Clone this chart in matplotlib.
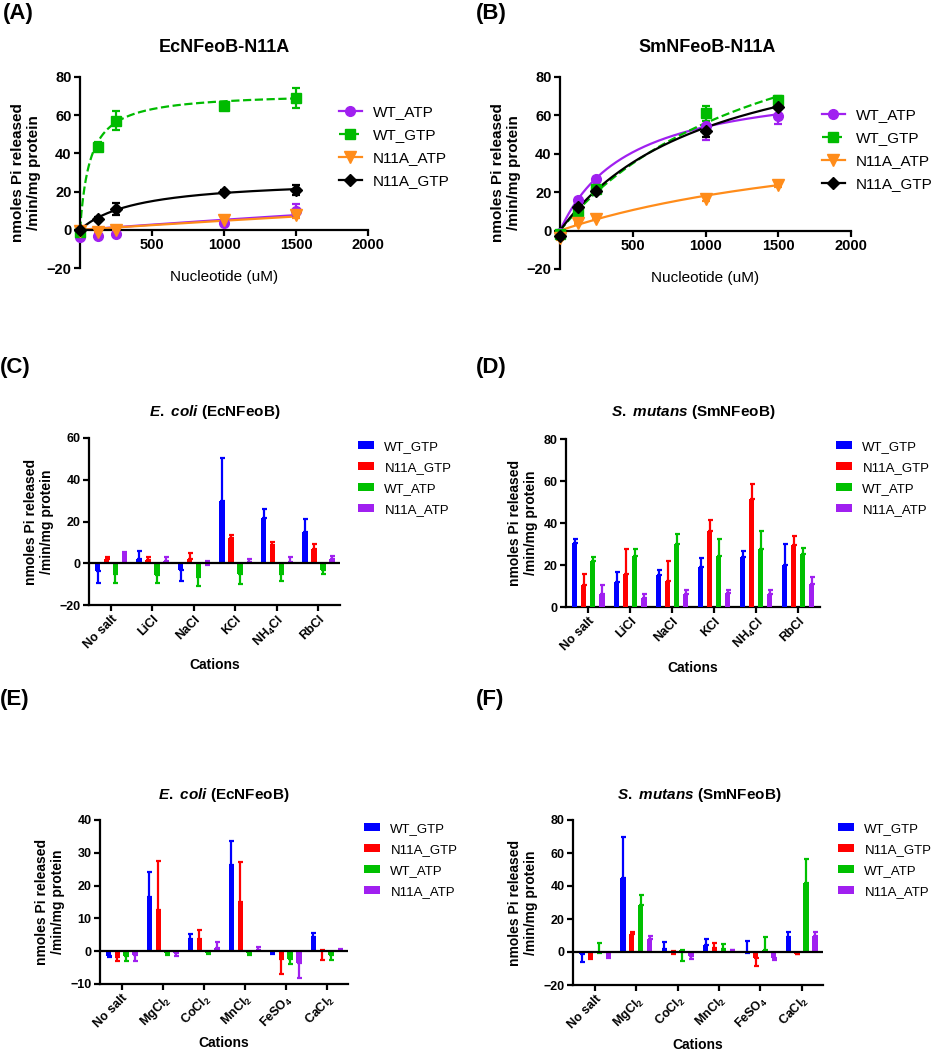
import numpy as np
import matplotlib
matplotlib.use('Agg')
import matplotlib.pyplot as plt
from matplotlib.lines import Line2D
from matplotlib.patches import Patch

plt.rcParams.update({
    'font.family': ['Liberation Sans', 'DejaVu Sans'],
    'font.weight': 'bold',
    'mathtext.fontset': 'custom',
    'mathtext.rm': 'Liberation Sans',
    'mathtext.it': 'Liberation Sans:italic:bold',
    'mathtext.bf': 'Liberation Sans:bold',
    'axes.linewidth': 1.6,
    'xtick.major.width': 1.6,
    'ytick.major.width': 1.6,
    'xtick.major.size': 4,
    'ytick.major.size': 4,
    'figure.facecolor': 'white',
})

# ---------------- data: kinetics (A, B) ----------------
nucleotide_uM = [0, 125, 250, 1000, 1500]
kin_labels = ['WT_ATP', 'WT_GTP', 'N11A_ATP', 'N11A_GTP']

# A: EcNFeoB-N11A
ec_wt_atp = [-4.0, -3.3, -2.0, 3.5, 10.0]
ec_wt_atp_err = [0.6, 0.6, 0.6, 1.0, 3.5]
ec_wt_gtp = [-1.0, 43.5, 57.0, 65.0, 69.0]
ec_wt_gtp_err = [0.6, 2.5, 5.0, 1.5, 5.0]
ec_n11a_atp = [-0.5, -1.0, 0.0, 5.0, 8.0]
ec_n11a_atp_err = [0.5, 0.5, 0.5, 1.0, 2.0]
ec_n11a_gtp = [0.0, 5.6, 11.0, 19.6, 20.8]
ec_n11a_gtp_err = [0.5, 1.0, 3.0, 1.0, 2.5]
# Michaelis-Menten fit parameters (Vmax, Km) for each series
ec_fit_vmax = [100, 72, 100, 27]
ec_fit_km = [18000, 70, 20000, 400]

# B: SmNFeoB-N11A
sm_wt_atp = [-1.2, 15.8, 26.8, 54.4, 59.6]
sm_wt_atp_err = [0.5, 1.0, 1.0, 7.0, 4.0]
sm_wt_gtp = [-1.8, 10.0, 21.6, 61.0, 68.0]
sm_wt_gtp_err = [0.5, 1.0, 1.5, 4.0, 2.0]
sm_n11a_atp = [-4.0, 3.9, 6.1, 16.5, 23.5]
sm_n11a_atp_err = [0.8, 0.5, 0.5, 1.0, 1.0]
sm_n11a_gtp = [-3.0, 12.3, 20.7, 52.0, 64.6]
sm_n11a_gtp_err = [0.5, 1.0, 1.0, 3.0, 1.5]
sm_fit_vmax = [80, 140, 60, 110]
sm_fit_km = [480, 1500, 2300, 1050]

# ---------------- data: cation bars (C-F) ----------------
bar_labels = ['WT_GTP', 'N11A_GTP', 'WT_ATP', 'N11A_ATP']
cations_mono = ['No salt', 'LiCl', 'NaCl', 'KCl', r'NH$_4$Cl', 'RbCl']
cations_di = ['No salt', r'MgCl$_2$', r'CoCl$_2$', r'MnCl$_2$', r'FeSO$_4$', r'CaCl$_2$']

# C: E. coli, monovalent (mean, signed SD: + drawn up, - drawn down)
c_wt_gtp = [-3.8, 2.2, -3.2, 30.0, 21.9, 15.2]
c_wt_gtp_sd = [-5.6, 3.9, -5.1, 20.6, 4.3, 5.8]
c_n11a_gtp = [1.8, 1.6, 2.2, 12.2, 8.8, 6.6]
c_n11a_gtp_sd = [1.2, 1.6, 2.8, 1.4, 1.6, 2.4]
c_wt_atp = [-5.0, -5.4, -6.4, -5.0, -5.0, -3.2]
c_wt_atp_sd = [-4.4, -4.0, -4.3, -4.9, -3.3, -1.8]
c_n11a_atp = [4.2, 1.3, -0.6, 0.6, 0.6, 2.1]
c_n11a_atp_sd = [1.2, 1.6, 1.9, 1.5, 2.3, 1.6]

# D: S. mutans, monovalent
d_wt_gtp = [30.6, 11.8, 15.1, 19.0, 23.7, 19.9]
d_wt_gtp_sd = [1.6, 4.9, 2.6, 4.4, 3.1, 10.0]
d_n11a_gtp = [10.5, 15.8, 12.6, 36.0, 51.5, 29.3]
d_n11a_gtp_sd = [5.1, 11.9, 9.4, 5.5, 7.3, 4.7]
d_wt_atp = [21.8, 24.5, 29.8, 24.4, 27.4, 25.2]
d_wt_atp_sd = [2.2, 2.9, 5.1, 7.9, 8.9, 2.8]
d_n11a_atp = [6.0, 4.5, 6.0, 6.8, 6.2, 11.1]
d_n11a_atp_sd = [4.5, 1.7, 2.0, 1.3, 1.8, 3.2]

# E: E. coli, divalent
e_wt_gtp = [-1.4, 16.6, 3.6, 26.4, -0.5, 4.3]
e_wt_gtp_sd = [-0.3, 7.4, 1.5, 7.3, -0.5, 1.4]
e_n11a_gtp = [-1.9, 12.6, 3.6, 14.9, -2.4, 0.4]
e_n11a_gtp_sd = [-1.2, 14.8, 3.0, 12.4, -4.7, -3.1]
e_wt_atp = [-1.5, -0.7, -0.5, -0.6, -2.5, -1.2]
e_wt_atp_sd = [-1.5, -0.6, -0.4, -0.5, -1.3, -1.6]
e_n11a_atp = [-1.3, -0.5, 1.1, 0.5, -3.6, 0.4]
e_n11a_atp_sd = [-1.6, -1.0, 1.6, 0.7, -4.6, 0.4]

# F: S. mutans, divalent
f_wt_gtp = [-1.5, 44.6, 1.6, 4.2, -0.8, 8.8]
f_wt_gtp_sd = [-4.3, 24.9, 4.6, 3.4, 7.6, 3.2]
f_n11a_gtp = [-2.8, 11.0, 0.8, 2.6, -3.4, -1.0]
f_n11a_gtp_sd = [-1.6, 1.0, -2.2, 3.0, -4.8, -0.4]
f_wt_atp = [-0.5, 28.2, 1.0, 1.6, 1.2, 42.0]
f_wt_atp_sd = [6.1, 6.4, -6.4, 3.0, 7.8, 14.6]
f_n11a_atp = [-3.3, 7.6, -2.2, 1.0, -3.8, 9.8]
f_n11a_atp_sd = [-0.3, 2.0, -2.0, 0.2, -1.0, 2.6]

# ---------------- style ----------------
KIN_COLORS = ['#A020F0', '#00BB00', '#FF8C1A', '#000000']
KIN_MARKERS = ['o', 's', 'v', 'D']
KIN_MSIZE = [7, 6.5, 9, 6.5]
KIN_LS = ['-', '--', '-', '-']
BAR_COLORS = ['#0000FF', '#FF0000', '#00C000', '#A020F0']

W, H = 934, 1050


def fig_rect(left, top, right, bottom):
    return [left / W, 1 - bottom / H, (right - left) / W, (bottom - top) / H]


def draw_kinetics(ax, means, errs, vmax, km, title_xy, title, legend_xy):
    x = np.array(nucleotide_uM, dtype=float)
    xs = np.linspace(0, 1500, 300)
    for i in range(4):
        c = KIN_COLORS[i]
        fit = vmax[i] * xs / (km[i] + xs)
        ax.plot(xs, fit, color=c, lw=1.6, ls=KIN_LS[i], zorder=2)
        ax.errorbar(x, means[i], yerr=errs[i], fmt=KIN_MARKERS[i], color=c,
                    ms=KIN_MSIZE[i], elinewidth=1.6, capsize=3, capthick=1.6,
                    zorder=3, clip_on=False)
    ax.set_xlim(0, 2000)
    ax.set_ylim(-20, 80)
    ax.set_xticks([500, 1000, 1500, 2000])
    ax.set_yticks([-20, 0, 20, 40, 60, 80])
    ax.spines['top'].set_visible(False)
    ax.spines['right'].set_visible(False)
    ax.spines['bottom'].set_position(('data', 0))
    ax.tick_params(labelsize=10.5, pad=2)
    for t in ax.get_xticklabels() + ax.get_yticklabels():
        t.set_fontweight('bold')
    ax.set_ylabel('nmoles Pi released\n/min/mg protein', fontsize=11,
                  fontweight='bold', labelpad=4)
    ax.set_xlabel('Nucleotide (uM)', fontsize=11, fontweight='normal')
    ax.xaxis.set_label_coords(0.5, -0.01)
    fig.text(title_xy[0] / W, 1 - title_xy[1] / H, title, ha='center',
             va='center', fontsize=13, fontweight='bold')
    handles = [Line2D([], [], color=KIN_COLORS[i], marker=KIN_MARKERS[i],
                      ms=KIN_MSIZE[i], ls=KIN_LS[i], lw=1.6) for i in range(4)]
    ax.legend(handles, kin_labels, loc='upper left',
              bbox_to_anchor=(legend_xy[0] / W, 1 - legend_xy[1] / H),
              bbox_transform=fig.transFigure, frameon=False,
              prop={'weight': 'normal', 'size': 11},
              handlelength=1.5, handletextpad=0.7, labelspacing=0.6,
              borderpad=0, borderaxespad=0)


def draw_bars(ax, means, sds, cats, ylim, yticks, title_xy, title, legend_xy):
    slot = 0.215
    width = 0.13
    groups = np.arange(len(cats))
    for j in range(4):
        xpos = groups + (j - 1.5) * slot
        m = np.array(means[j])
        sd = np.array(sds[j])
        lower = np.where(sd < 0, -sd, 0)
        upper = np.where(sd > 0, sd, 0)
        ax.errorbar(xpos, m, yerr=[lower, upper], fmt='none',
                    ecolor=BAR_COLORS[j], elinewidth=1.6, capsize=1.8,
                    capthick=1.6, zorder=2)
        ax.bar(xpos, m, width=width, color=BAR_COLORS[j], zorder=3)
    ax.set_xlim(-0.53, 5.52)
    ax.set_ylim(*ylim)
    ax.set_yticks(yticks)
    ax.set_xticks(groups)
    ax.set_xticklabels(cats, rotation=45, ha='right', rotation_mode='anchor')
    if ylim[0] < 0:
        ax.axhline(0, color='black', lw=1.6, zorder=4)
    ax.spines['top'].set_visible(False)
    ax.spines['right'].set_visible(False)
    ax.tick_params(labelsize=9, pad=2)
    for t in ax.get_xticklabels() + ax.get_yticklabels():
        t.set_fontweight('bold')
    ax.set_ylabel('nmoles Pi released\n/min/mg protein', fontsize=10,
                  fontweight='bold', labelpad=4)
    ax.set_xlabel('Cations', fontsize=10, fontweight='bold')
    ax.xaxis.set_label_coords(0.5, -0.32)
    fig.text(title_xy[0] / W, 1 - title_xy[1] / H, title, ha='center',
             va='center', fontsize=11, fontweight='bold')
    handles = [Patch(facecolor=c, edgecolor='none') for c in BAR_COLORS]
    ax.legend(handles, bar_labels, loc='upper left',
              bbox_to_anchor=(legend_xy[0] / W, 1 - legend_xy[1] / H),
              bbox_transform=fig.transFigure, frameon=False,
              prop={'weight': 'normal', 'size': 9.5},
              handlelength=1.25, handleheight=0.55, handletextpad=0.75,
              labelspacing=0.68, borderpad=0, borderaxespad=0)


fig = plt.figure(figsize=(W / 100, H / 100), dpi=100)

axA = fig.add_axes(fig_rect(80, 77, 368, 268))
draw_kinetics(axA, [ec_wt_atp, ec_wt_gtp, ec_n11a_atp, ec_n11a_gtp],
              [ec_wt_atp_err, ec_wt_gtp_err, ec_n11a_atp_err, ec_n11a_gtp_err],
              ec_fit_vmax, ec_fit_km, (224, 48), 'EcNFeoB-N11A', (339, 105))

axB = fig.add_axes(fig_rect(560, 77, 851, 269))
draw_kinetics(axB, [sm_wt_atp, sm_wt_gtp, sm_n11a_atp, sm_n11a_gtp],
              [sm_wt_atp_err, sm_wt_gtp_err, sm_n11a_atp_err, sm_n11a_gtp_err],
              sm_fit_vmax, sm_fit_km, (707, 48), 'SmNFeoB-N11A', (822, 108))

axC = fig.add_axes(fig_rect(89, 438, 340, 605))
draw_bars(axC, [c_wt_gtp, c_n11a_gtp, c_wt_atp, c_n11a_atp],
          [c_wt_gtp_sd, c_n11a_gtp_sd, c_wt_atp_sd, c_n11a_atp_sd],
          cations_mono, (-20, 60), [-20, 0, 20, 40, 60], (215, 412),
          r'$\mathit{E.\ coli}$ (EcNFeoB)', (358, 441))

axD = fig.add_axes(fig_rect(566, 439, 820, 607))
draw_bars(axD, [d_wt_gtp, d_n11a_gtp, d_wt_atp, d_n11a_atp],
          [d_wt_gtp_sd, d_n11a_gtp_sd, d_wt_atp_sd, d_n11a_atp_sd],
          cations_mono, (0, 80), [0, 20, 40, 60, 80], (693, 412),
          r'$\mathit{S.\ mutans}$ (SmNFeoB)', (836, 441))

axE = fig.add_axes(fig_rect(100, 820, 348, 984))
draw_bars(axE, [e_wt_gtp, e_n11a_gtp, e_wt_atp, e_n11a_atp],
          [e_wt_gtp_sd, e_n11a_gtp_sd, e_wt_atp_sd, e_n11a_atp_sd],
          cations_di, (-10, 40), [-10, 0, 10, 20, 30, 40], (224, 795),
          r'$\mathit{E.\ coli}$ (EcNFeoB)', (364, 823))

axF = fig.add_axes(fig_rect(573, 820, 823, 985))
draw_bars(axF, [f_wt_gtp, f_n11a_gtp, f_wt_atp, f_n11a_atp],
          [f_wt_gtp_sd, f_n11a_gtp_sd, f_wt_atp_sd, f_n11a_atp_sd],
          cations_di, (-20, 80), [-20, 0, 20, 40, 60, 80], (699, 795),
          r'$\mathit{S.\ mutans}$ (SmNFeoB)', (838, 823))

# panel letters
for lab, x, y in [('(A)', 3, 13), ('(B)', 476, 13), ('(C)', 0, 368),
                  ('(D)', 476, 368), ('(E)', 0, 700), ('(F)', 476, 700)]:
    fig.text(x / W, 1 - y / H, lab, ha='left', va='center', fontsize=16,
             fontweight='bold')

fig.savefig('out.png', dpi=100, facecolor='white')
